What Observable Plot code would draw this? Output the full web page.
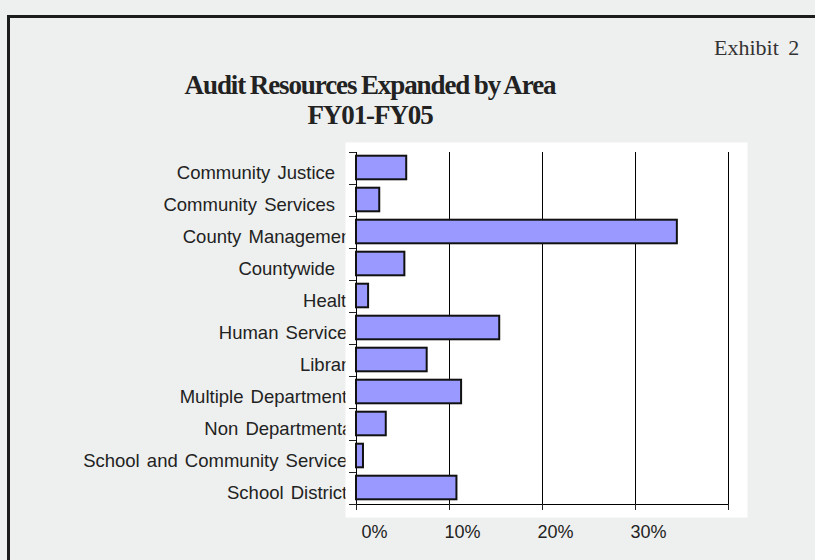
<!DOCTYPE html>
<html>
<head>
<meta charset="utf-8">
<script src="https://cdn.jsdelivr.net/npm/d3@7"></script>
<script src="https://cdn.jsdelivr.net/npm/@observablehq/plot@0.6"></script>
<style>
  html, body { margin: 0; padding: 0; width: 815px; height: 560px; overflow: hidden; background: #eef0ef; }
  #frame { position: absolute; left: 7px; top: 15px; width: 900px; height: 700px;
           border-left: 3px solid #1c1c1c; border-top: 3px solid #1c1c1c; }
  #title { position: absolute; left: 170px; width: 400px; top: 70px; text-align: center;
           font-family: "Liberation Serif", serif; font-weight: bold; font-size: 27px;
           letter-spacing: -1.1px; word-spacing: -1px; line-height: 30px; color: #222; }
  #exhibit { position: absolute; left: 714px; top: 36px; font-family: "Liberation Serif", serif;
             font-size: 22px; line-height: 24px; color: #333; word-spacing: 4px; white-space: nowrap; }
  #chart { position: absolute; left: 0; top: 0; width: 815px; height: 560px; }
  #chart svg text { word-spacing: 2px; }
</style>
</head>
<body>
<div id="frame"></div>
<div id="exhibit">Exhibit 2</div>
<div id="title">Audit Resources Expanded by Area<br>FY01-FY05</div>
<div id="chart"></div>
<script>
// Categories (trailing spaces as they appear in the original labels)
const categories = [
  "Community Justice   ",
  "Community Services   ",
  "County Management",
  "Countywide   ",
  "Health",
  "Human Services",
  "Library",
  "Multiple Departments",
  "Non Departmental",
  "School and Community Services",
  "School Districts"
];
// Share of audit resources (percent)
const values = [5.4, 2.5, 34.5, 5.2, 1.3, 15.4, 7.6, 11.3, 3.2, 0.75, 10.8];
// x-axis ticks (fractions) and their labels
const xTicks = [0, 0.1, 0.2, 0.3, 0.4];
const xTickLabels = ["0%", "10%", "20%", "30%", ""];

const n = categories.length;
const data = categories.map((c, i) => ({cat: c, i, value: values[i] / 100}));
const fmtLabel = s => s.replace(/ +$/, m => "\u00a0".repeat(m.length));

const plot = Plot.plot({
  width: 815,
  height: 560,
  marginLeft: 356,
  marginRight: 87,
  marginTop: 152,
  marginBottom: 56,
  style: {background: "none", overflow: "visible", fontFamily: "'Liberation Sans', Arial, sans-serif"},
  x: {domain: [0, 0.4]},
  y: {domain: [0, n], reverse: true},
  marks: [
    // category labels (centred in each band), partly hidden by the white plot area
    Plot.axisY({
      ticks: categories.map((c, i) => i + 0.5),
      tickFormat: v => fmtLabel(categories[Math.floor(v)]),
      tickSize: 0, tickPadding: 0, dy: 5,
      fontSize: 18.5, color: "#222", label: null
    }),
    // white plot background
    Plot.frame({fill: "white", stroke: "none", insetLeft: -11, insetTop: -10, insetRight: -19, insetBottom: -13}),
    Plot.gridX({ticks: xTicks.slice(1), stroke: "#000", strokeOpacity: 1, strokeWidth: 1}),
    Plot.ruleX([0], {stroke: "#000"}),
    Plot.ruleY([n], {stroke: "#000"}),
    // x ticks below the axis line
    Plot.axisX({ticks: xTicks, tickSize: 6, tickFormat: () => "", color: "#222", label: null}),
    // x tick labels
    Plot.axisX({
      ticks: xTicks.slice(0, 4),
      tickSize: 0, tickPadding: 21,
      tickFormat: d => xTickLabels[xTicks.indexOf(d)],
      textAnchor: "end", dx: 31,
      fontSize: 18, color: "#222", label: null
    }),
    // category boundary ticks on the y axis
    Plot.ruleY(d3.range(n + 1), {y: d => d, x1: 0, x2: 0, insetLeft: -7, stroke: "#222"}),
    Plot.rectX(data, {
      x: "value", y1: "i", y2: d => d.i + 1,
      fill: "#9999ff", stroke: "#111", strokeWidth: 2,
      insetTop: 3.7, insetBottom: 4.7
    })
  ]
});
document.getElementById("chart").appendChild(plot);
</script>
</body>
</html>
